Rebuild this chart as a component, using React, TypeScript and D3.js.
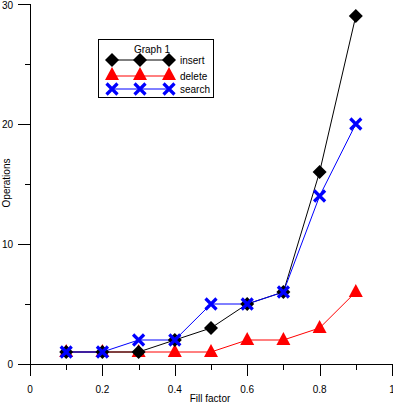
import React from "react";
import * as d3 from "d3";

const fillFactor = [0.1, 0.2, 0.3, 0.4, 0.5, 0.6, 0.7, 0.8, 0.9];
const insertOps = [1, 1, 1, 2, 3, 5, 6, 16, 29];
const deleteOps = [1, 1, 1, 1, 1, 2, 2, 3, 6];
const searchOps = [1, 1, 2, 2, 5, 5, 6, 14, 20];
const xTickLabels = [0, 0.2, 0.4, 0.6, 0.8, 1];
const yTickLabels = [0, 10, 20, 30];

const W = 393, H = 403;
const x = d3.scaleLinear().domain([0, 1]).range([30, 392]);
const y = d3.scaleLinear().domain([0, 30]).range([364, 4]);
const font = "Liberation Sans, Arial, sans-serif";

function Diamond({ cx, cy }: { cx: number; cy: number }) {
  const r = 7;
  return <path d={`M${cx},${cy - r}L${cx + r},${cy}L${cx},${cy + r}L${cx - r},${cy}Z`} fill="#000" />;
}
function Tri({ cx, cy }: { cx: number; cy: number }) {
  return <path d={`M${cx},${cy - 8}L${cx + 7},${cy + 5}L${cx - 7},${cy + 5}Z`} fill="#f00" />;
}
function Cross({ cx, cy }: { cx: number; cy: number }) {
  const r = 5.5;
  return (
    <path
      d={`M${cx - r},${cy - r}L${cx + r},${cy + r}M${cx + r},${cy - r}L${cx - r},${cy + r}`}
      stroke="#00f"
      strokeWidth={3.2}
      fill="none"
    />
  );
}

export default function App() {
  const line = d3.line<number>().x((_, i) => x(fillFactor[i])).y((d) => y(d));
  const minorX = d3.range(0, 11).map((i) => i / 10);
  const minorY = [5, 15, 25];
  return (
    <svg width={W} height={H} style={{ position: "absolute", left: 0, top: 0, background: "#fff" }}>
      <rect width={W} height={H} fill="#fff" />
      <g stroke="#000" strokeWidth={1} shapeRendering="crispEdges">
        <line x1={18} x2={392} y1={364.5} y2={364.5} />
        <line x1={30.5} x2={30.5} y1={4} y2={376} />
        {minorX.map((v, i) => (
          <line key={"mx" + v} x1={Math.round(x(v)) + 0.5} x2={Math.round(x(v)) + 0.5} y1={364} y2={i % 2 === 0 ? 376 : 370} />
        ))}
        {yTickLabels.map((v) => (
          <line key={"yt" + v} x1={18} x2={30} y1={Math.round(y(v)) + 0.5} y2={Math.round(y(v)) + 0.5} />
        ))}
        {minorY.map((v) => (
          <line key={"my" + v} x1={25} x2={30} y1={Math.round(y(v)) + 0.5} y2={Math.round(y(v)) + 0.5} />
        ))}
      </g>
      <g fontFamily={font} fontSize={10} fill="#000">
        {xTickLabels.map((v) => (
          <text key={"xl" + v} x={x(v)} y={393} textAnchor="middle">{String(v)}</text>
        ))}
        {yTickLabels.map((v) => (
          <text key={"yl" + v} x={13} y={Math.max(y(v) + 4, 9)} textAnchor="end">{String(v)}</text>
        ))}
        <text x={210} y={402} textAnchor="middle">Fill factor</text>
        <text transform="translate(10,183) rotate(-90)" textAnchor="middle">Operations</text>
      </g>
      <path d={line(deleteOps) || ""} fill="none" stroke="#f00" strokeWidth={1} />
      <path d={line(insertOps) || ""} fill="none" stroke="#000" strokeWidth={1} />
      <path d={line(searchOps) || ""} fill="none" stroke="#00f" strokeWidth={1} />
      {deleteOps.map((d, i) => <Tri key={"t" + i} cx={x(fillFactor[i])} cy={y(d)} />)}
      {insertOps.map((d, i) => <Diamond key={"d" + i} cx={x(fillFactor[i])} cy={y(d)} />)}
      {searchOps.map((d, i) => <Cross key={"c" + i} cx={x(fillFactor[i])} cy={y(d)} />)}
      <rect x={98.5} y={39.5} width={115} height={58} fill="#fff" stroke="#000" strokeWidth={1} shapeRendering="crispEdges" />
      <text x={152} y={53} textAnchor="middle" fontFamily={font} fontSize={10}>Graph 1</text>
      <line x1={112} x2={169} y1={60} y2={60} stroke="#000" />
      <line x1={112} x2={169} y1={76} y2={76} stroke="#f00" />
      <line x1={112} x2={169} y1={89} y2={89} stroke="#00f" />
      {[112, 140, 169].map((cx) => (
        <g key={"lg" + cx}>
          <Diamond cx={cx} cy={60} />
          <Tri cx={cx} cy={75} />
          <Cross cx={cx} cy={89} />
        </g>
      ))}
      <g fontFamily={font} fontSize={10}>
        <text x={180} y={64}>insert</text>
        <text x={180} y={80}>delete</text>
        <text x={180} y={93}>search</text>
      </g>
    </svg>
  );
}
